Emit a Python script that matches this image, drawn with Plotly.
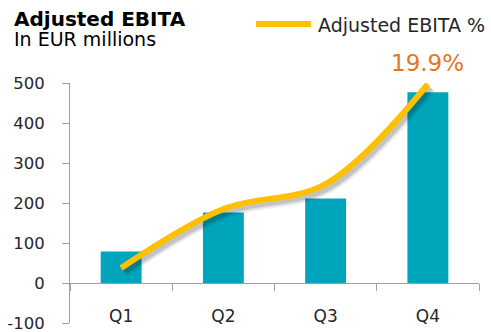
import plotly.graph_objects as go

# Quarterly figures
quarters = ["Q1", "Q2", "Q3", "Q4"]
ebita_eur_m = [79, 176, 211, 477]          # Adjusted EBITA, EUR millions
ebita_margin_pct = [1.5, 7.4, 9.9, 19.9]    # Adjusted EBITA %
y_ticks = [-100, 0, 100, 200, 300, 400, 500]

W, H = 491, 332
M_L, M_R, M_T, M_B = 70, 12, 83, 9
PLOT_W = W - M_L - M_R
PLOT_H = H - M_T - M_B

Y_RANGE = [-100, 500]
PCT_RANGE = [-4, 20]
X_RANGE = [-0.5, 3.5]

TEAL = "#00A4BB"
GOLD = "#FFC000"
ORANGE = "#E8741E"
AXIS_GREY = "#A0A0A0"
TEXT = "#262626"
FONT = "DejaVu Sans"

# drop-shadow offset for the margin line, in pixels
SH_DX, SH_DY = 3, 4
x_per_px = (X_RANGE[1] - X_RANGE[0]) / PLOT_W
pct_per_px = (PCT_RANGE[1] - PCT_RANGE[0]) / PLOT_H
shadow_x_range = [X_RANGE[0] - SH_DX * x_per_px, X_RANGE[1] - SH_DX * x_per_px]
shadow_pct_range = [PCT_RANGE[0] + SH_DY * pct_per_px, PCT_RANGE[1] + SH_DY * pct_per_px]

fig = go.Figure()

fig.add_trace(go.Bar(
    x=quarters, y=ebita_eur_m, marker=dict(color=TEAL, line=dict(width=0)),
    width=0.4, showlegend=False, hoverinfo="skip",
))

# soft shadow under the margin line
for w, a in [(11, 0.05), (8, 0.08), (5, 0.12)]:
    fig.add_trace(go.Scatter(
        x=quarters, y=ebita_margin_pct, xaxis="x2", yaxis="y2", mode="lines",
        line=dict(color=f"rgba(0,0,0,{a})", width=w, shape="spline", smoothing=1.0),
        showlegend=False, hoverinfo="skip",
    ))

fig.add_trace(go.Scatter(
    x=quarters, y=ebita_margin_pct, xaxis="x3", yaxis="y3", mode="lines",
    line=dict(color=GOLD, width=6, shape="spline", smoothing=1.0),
    name="Adjusted EBITA %", showlegend=False, hoverinfo="skip",
))

hidden = dict(visible=False, showgrid=False, zeroline=False, fixedrange=True,
              automargin=False)

fig.update_layout(
    width=W, height=H,
    margin=dict(l=M_L, r=M_R, t=M_T, b=M_B, autoexpand=False),
    paper_bgcolor="white", plot_bgcolor="white",
    font=dict(family=FONT, color=TEXT),
    bargap=0.6,
    xaxis=dict(
        type="category", categoryorder="array", categoryarray=quarters,
        range=X_RANGE, anchor="free",
        position=(0 - Y_RANGE[0]) / (Y_RANGE[1] - Y_RANGE[0]),
        showline=True, linecolor=AXIS_GREY, linewidth=1,
        ticks="outside", tickson="boundaries", ticklen=7, tickcolor=AXIS_GREY,
        tickfont=dict(size=17, color=TEXT), ticklabelstandoff=18,
        ticklabeloverflow="allow",
        showgrid=False, zeroline=False, fixedrange=True, automargin=False,
    ),
    yaxis=dict(
        range=Y_RANGE, tickvals=y_ticks, ticktext=[str(v) for v in y_ticks],
        showline=True, linecolor=AXIS_GREY, linewidth=1,
        ticks="outside", ticklen=7, tickcolor=AXIS_GREY,
        tickfont=dict(size=16.5, color=TEXT), ticklabelstandoff=14,
        ticklabeloverflow="allow",
        showgrid=False, zeroline=False, fixedrange=True, automargin=False,
    ),
    xaxis2=dict(type="category", categoryorder="array", categoryarray=quarters,
                range=shadow_x_range, overlaying="x", anchor="y2", **hidden),
    yaxis2=dict(range=shadow_pct_range, overlaying="y", anchor="x2", **hidden),
    xaxis3=dict(type="category", categoryorder="array", categoryarray=quarters,
                range=X_RANGE, overlaying="x", anchor="y3", **hidden),
    yaxis3=dict(range=PCT_RANGE, overlaying="y", anchor="x3", **hidden),
    showlegend=False,
)


def px_x(px):
    return (px - M_L) / PLOT_W


def px_y(py):
    return (H - M_B - py) / PLOT_H


# titles
fig.add_annotation(text="<b>Adjusted EBITA</b>", xref="paper", yref="paper",
                   x=px_x(12), y=px_y(19), xanchor="left", yanchor="middle",
                   showarrow=False, font=dict(size=20, color="#000000"))
fig.add_annotation(text="In EUR millions", xref="paper", yref="paper",
                   x=px_x(12), y=px_y(39), xanchor="left", yanchor="middle",
                   showarrow=False, font=dict(size=19, color="#000000"))

# legend entry for the margin line
fig.add_shape(type="line", xref="paper", yref="paper",
              x0=px_x(256), x1=px_x(311), y0=px_y(24), y1=px_y(24),
              line=dict(color=GOLD, width=6))
fig.add_annotation(text="Adjusted EBITA %", xref="paper", yref="paper",
                   x=px_x(316), y=px_y(25), xanchor="left", yanchor="middle",
                   showarrow=False, font=dict(size=19, color=TEXT))

# value label at the last quarter
fig.add_annotation(text=f"{ebita_margin_pct[-1]}%", xref="x3", yref="y3",
                   x=quarters[-1], y=ebita_margin_pct[-1], yshift=21,
                   xanchor="center", yanchor="middle", showarrow=False,
                   font=dict(size=23, color=ORANGE))

fig.write_html("out.html")
